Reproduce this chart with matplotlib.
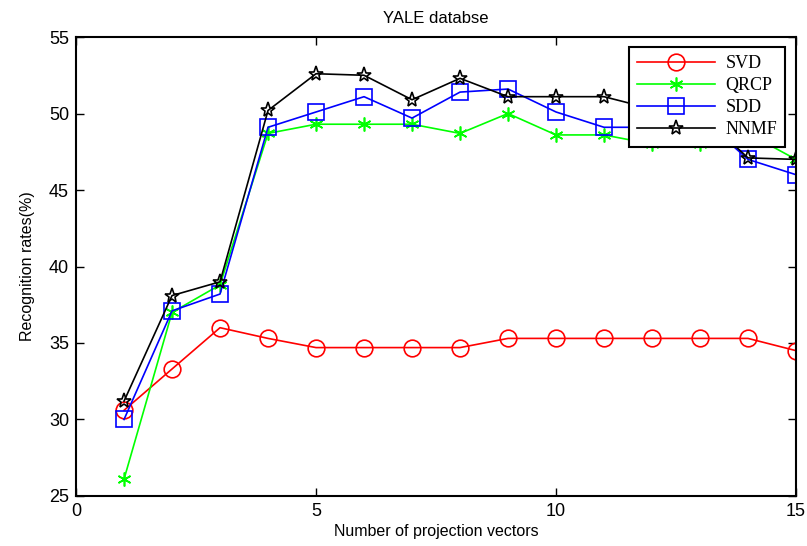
import matplotlib
matplotlib.use("Agg")
import matplotlib.pyplot as plt

x_vals = list(range(1, 16))
svd = [30.6, 33.3, 36.0, 35.3, 34.7, 34.7, 34.7, 34.7, 35.3, 35.3, 35.3, 35.3, 35.3, 35.3, 34.5]
qrcp = [26.1, 37.0, 38.8, 48.7, 49.3, 49.3, 49.3, 48.7, 50.0, 48.6, 48.6, 48.0, 48.0, 48.7, 47.0]
sdd = [30.0, 37.1, 38.2, 49.1, 50.1, 51.1, 49.7, 51.4, 51.6, 50.1, 49.1, 49.1, 49.8, 47.0, 46.0]
nnmf = [31.2, 38.1, 39.0, 50.2, 52.6, 52.5, 50.9, 52.3, 51.1, 51.1, 51.1, 50.3, 50.0, 47.1, 47.0]

series_names = ["SVD", "QRCP", "SDD", "NNMF"]

asterisk = (6, 2, 0)

fig = plt.figure(figsize=(8.07, 5.46), dpi=100)
ax = fig.add_axes([0.0942, 0.0916, 0.8922, 0.8406])

ax.plot(x_vals, svd, color="red", marker="o", markersize=12, fillstyle="none",
        markeredgewidth=1.2, linewidth=1.2, label=series_names[0])
ax.plot(x_vals, qrcp, color="#00ff00", marker=asterisk, markersize=10,
        markeredgewidth=1.2, linewidth=1.2, label=series_names[1])
ax.plot(x_vals, sdd, color="blue", marker="s", markersize=12, fillstyle="none",
        markeredgewidth=1.2, linewidth=1.2, label=series_names[2])
ax.plot(x_vals, nnmf, color="black", marker="*", markersize=11, fillstyle="none",
        markeredgewidth=1.2, linewidth=1.2, label=series_names[3])

ax.set_xlim(0, 15)
ax.set_ylim(25, 55)
ax.set_xticks([0, 5, 10, 15])
ax.set_yticks([25, 30, 35, 40, 45, 50, 55])
ax.tick_params(direction="in", length=6, width=1, top=True, right=True,
               labelsize=13, pad=5)
for lab in ax.get_xticklabels() + ax.get_yticklabels():
    lab.set_fontfamily("Liberation Sans")
for sp in ax.spines.values():
    sp.set_linewidth(1.5)

ax.set_title("YALE databse", fontsize=12, fontfamily="Liberation Sans", pad=10)
ax.set_xlabel("Number of projection vectors", fontsize=11.5, fontfamily="Liberation Sans", labelpad=3)
ax.set_ylabel("Recognition rates(%)", fontsize=11.5, fontfamily="Liberation Sans", labelpad=10)

leg = ax.legend(loc="upper right", bbox_to_anchor=(0.985, 0.978), borderaxespad=0,
                fancybox=False, framealpha=1, edgecolor="black", handlelength=4.3,
                prop={"family": "Liberation Serif", "size": 13}, labelspacing=0.28,
                borderpad=0.45, handletextpad=0.6)
leg.get_frame().set_linewidth(1.5)

fig.savefig("out.png", dpi=100)
